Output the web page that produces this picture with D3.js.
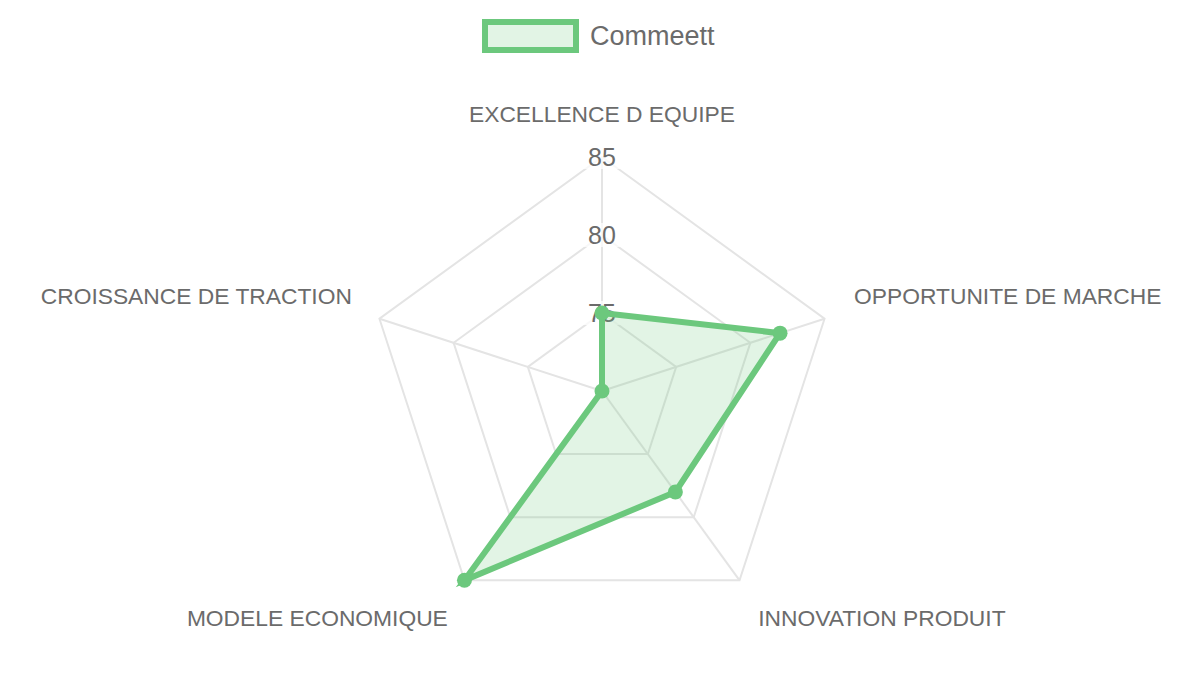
<!DOCTYPE html>
<html>
<head>
<meta charset="utf-8">
<script src="https://cdn.jsdelivr.net/npm/d3@7"></script>
<style>
  html, body { margin: 0; padding: 0; background: #fff; }
  svg { display: block; font-family: "Liberation Sans", Arial, sans-serif; }
</style>
</head>
<body>
<div id="chart"></div>
<script>
// chart data
const labels = ['EXCELLENCE D EQUIPE', 'OPPORTUNITE DE MARCHE', 'INNOVATION PRODUIT', 'MODELE ECONOMIQUE', 'CROISSANCE DE TRACTION'];
const seriesName = 'Commeett';
const values = [75, 82, 78, 85, 70];
const tickValues = [75, 80, 85];
const scaleMin = 70;
const scaleMax = 85;

const width = 1200;
const height = 675;
const center = {x: 602, y: 391};
const maxRadius = 234;
const lineColor = 'rgb(108, 200, 125)';
const fillColor = 'rgba(108, 200, 125, 0.2)';
const gridColor = '#e4e4e4';
const textColor = '#6b6b6b';

const svg = d3.select('#chart').append('svg')
    .attr('width', width)
    .attr('height', height)
    .attr('viewBox', [0, 0, width, height]);

const r = d3.scaleLinear().domain([scaleMin, scaleMax]).range([0, maxRadius]);

// angle for each axis, starting at top, going clockwise
const angle = d3.scalePoint().domain(labels).range([0, 2 * Math.PI * (labels.length - 1) / labels.length]);

function pointAt(label, radius) {
    const a = angle(label);
    return [center.x + radius * Math.sin(a), center.y - radius * Math.cos(a)];
}

const g = svg.append('g');

// grid rings
tickValues.forEach(t => {
    g.append('polygon')
        .attr('points', labels.map(l => pointAt(l, r(t)).join(',')).join(' '))
        .attr('fill', 'none')
        .attr('stroke', gridColor)
        .attr('stroke-width', 2);
});

// spokes
labels.forEach(l => {
    const p = pointAt(l, r(scaleMax));
    g.append('line')
        .attr('x1', center.x).attr('y1', center.y)
        .attr('x2', p[0]).attr('y2', p[1])
        .attr('stroke', gridColor)
        .attr('stroke-width', 2);
});

// tick labels with a light backdrop
tickValues.forEach(t => {
    const y = center.y - r(t);
    g.append('rect')
        .attr('x', center.x - 18).attr('y', y - 12)
        .attr('width', 36).attr('height', 24)
        .attr('fill', 'rgba(255,255,255,0.75)');
    g.append('text')
        .attr('x', center.x)
        .attr('y', y)
        .attr('text-anchor', 'middle')
        .attr('dominant-baseline', 'central')
        .attr('font-size', 25)
        .attr('fill', textColor)
        .text(t);
});

// point labels
labels.forEach(l => {
    const a = angle(l);
    const p = pointAt(l, maxRadius + 30);
    const s = Math.sin(a);
    const anchor = Math.abs(s) < 0.01 ? 'middle' : (s > 0 ? 'start' : 'end');
    const lower = Math.cos(a) < 0;
    g.append('text')
        .attr('x', p[0] + (anchor === 'middle' ? 0 : 1))
        .attr('y', lower ? p[1] + 21 : p[1] - 5)
        .attr('text-anchor', anchor)
        .attr('font-size', 22.8)
        .attr('fill', textColor)
        .text(l);
});

// data polygon
const pts = labels.map((l, i) => pointAt(l, r(values[i])));
g.append('polygon')
    .attr('points', pts.map(p => p.join(',')).join(' '))
    .attr('fill', fillColor)
    .attr('stroke', lineColor)
    .attr('stroke-width', 6)
    .attr('stroke-linejoin', 'miter');

g.selectAll('circle.pt')
    .data(pts)
    .join('circle')
    .attr('class', 'pt')
    .attr('cx', d => d[0])
    .attr('cy', d => d[1])
    .attr('r', 7.5)
    .attr('fill', lineColor);

// legend
const legend = svg.append('g');
legend.append('rect')
    .attr('x', 485).attr('y', 22)
    .attr('width', 91).attr('height', 28)
    .attr('fill', fillColor)
    .attr('stroke', lineColor)
    .attr('stroke-width', 6);
legend.append('text')
    .attr('x', 590)
    .attr('y', 36)
    .attr('dominant-baseline', 'central')
    .attr('font-size', 27)
    .attr('fill', textColor)
    .text(seriesName);
</script>
</body>
</html>
